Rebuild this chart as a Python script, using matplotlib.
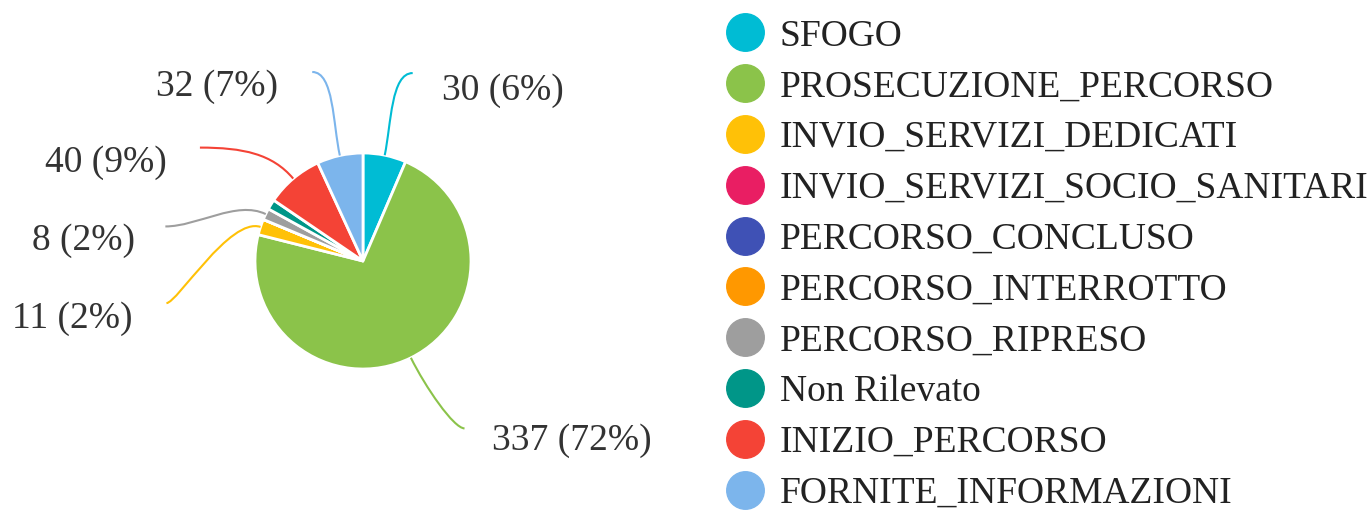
import matplotlib.pyplot as plt
import numpy as np
from matplotlib.path import Path
from matplotlib.patches import PathPatch
from matplotlib.lines import Line2D

categorie = ['SFOGO', 'PROSECUZIONE_PERCORSO', 'INVIO_SERVIZI_DEDICATI',
             'INVIO_SERVIZI_SOCIO_SANITARI', 'PERCORSO_CONCLUSO', 'PERCORSO_INTERROTTO',
             'PERCORSO_RIPRESO', 'Non Rilevato', 'INIZIO_PERCORSO', 'FORNITE_INFORMAZIONI']
valori = [30, 337, 11, 0, 0, 0, 8, 7, 40, 32]
colori = ['#00BCD4', '#8BC34A', '#FFC107', '#E91E63', '#3F51B5', '#FF9800',
          '#9E9E9E', '#009688', '#F44336', '#7CB5EC']

# posizione etichette (fine linea, testo, allineamento, direzione finale, curvatura) in unità del raggio
layout_etichette = {
    'SFOGO': ((0.46, 1.74), (0.73, 1.58), 'left', 1, 0.2),
    'PROSECUZIONE_PERCORSO': ((0.94, -1.55), (1.19, -1.66), 'left', 1, 0.1),
    'INVIO_SERVIZI_DEDICATI': ((-1.82, -0.39), (-2.13, -0.53), 'right', -1, 0.1),
    'PERCORSO_RIPRESO': ((-1.83, 0.32), (-2.11, 0.19), 'right', -1, 0.3),
    'INIZIO_PERCORSO': ((-1.51, 1.05), (-1.82, 0.91), 'right', -1, 0.4),
    'FORNITE_INFORMAZIONI': ((-0.47, 1.75), (-0.79, 1.61), 'right', -1, 0.2),
}

plt.rcParams['font.family'] = ['Liberation Serif', 'DejaVu Serif']

fig = plt.figure(figsize=(13.71, 5.12), dpi=100)
ax = fig.add_axes([255 / 1371, (512 - 369) / 512, 216 / 1371, 216 / 512])

wedges, _ = ax.pie(valori, colors=colori, startangle=90, counterclock=False,
                   wedgeprops=dict(edgecolor='white', linewidth=2))
ax.set_xlim(-1, 1)
ax.set_ylim(-1, 1)

totale = sum(valori)
for w, nome, v, col in zip(wedges, categorie, valori, colori):
    if nome not in layout_etichette:
        continue
    fine, pos_testo, ha, dirx, k = layout_etichette[nome]
    ang = np.deg2rad((w.theta1 + w.theta2) / 2)
    d = np.array([np.cos(ang), np.sin(ang)])
    p0 = 1.0 * d
    p1 = 1.3 * d
    p3 = np.array(fine)
    p2 = p3 - np.array([dirx * k, 0])
    path = Path([p0, p1, p2, p3], [Path.MOVETO, Path.CURVE4, Path.CURVE4, Path.CURVE4])
    ax.add_patch(PathPatch(path, fill=False, edgecolor=col, linewidth=1.5, clip_on=False))
    perc = round(v / totale * 100)
    ax.text(pos_testo[0], pos_testo[1], f'{v} ({perc}%)', ha=ha, va='center',
            fontsize=27, color='#333333')

handles = [Line2D([], [], marker='o', linestyle='', markersize=27,
                  markerfacecolor=c, markeredgecolor=c) for c in colori]
fig.legend(handles, categorie, loc='upper left',
           bbox_to_anchor=(726 / 1371, 1 - 19 / 512), frameon=False,
           fontsize=27, labelspacing=0.435, handlelength=1.0, handletextpad=0.43,
           borderpad=0, borderaxespad=0, labelcolor='#222222')

fig.savefig('out.png', dpi=100)
